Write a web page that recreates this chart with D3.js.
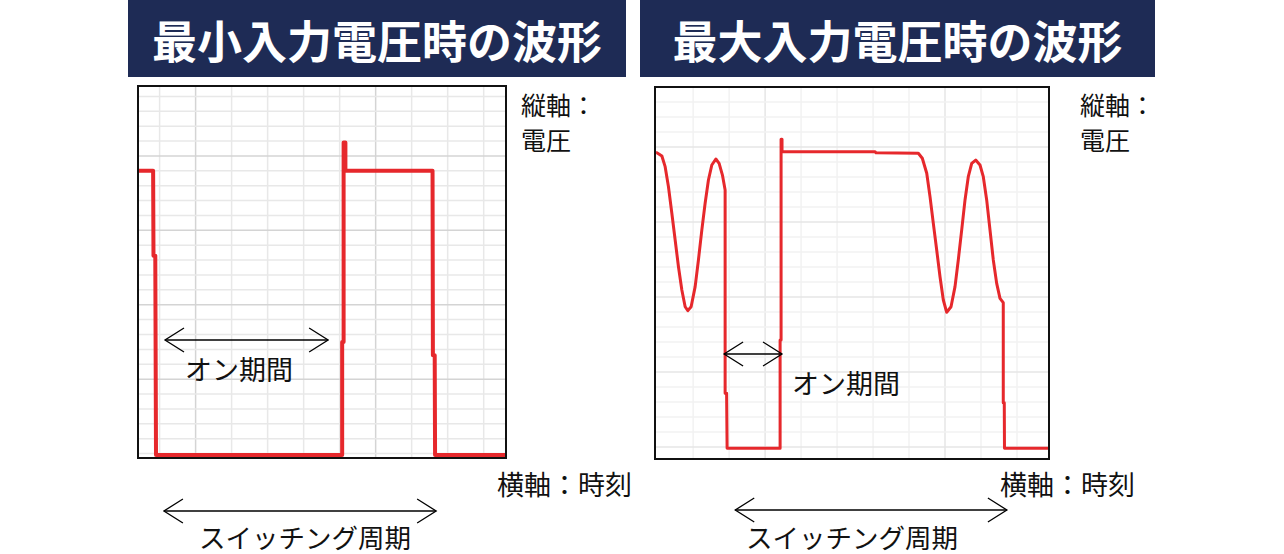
<!DOCTYPE html>
<html>
<head>
<meta charset="utf-8">
<script src="https://cdn.jsdelivr.net/npm/d3@7"></script>
<style>
  body { margin: 0; background: #fff; }
  text { font-family: "Noto Sans CJK JP", "Noto Sans", sans-serif; }
</style>
</head>
<body>
<svg id="chart" width="1284" height="554"></svg>
<script>
// titles
const titles = ["最小入力電圧時の波形", "最大入力電圧時の波形"];

// waveform at minimum input voltage (time in grid divisions, voltage in grid divisions)
const minTime = [-0.6, -0.18, -0.17, -0.12, -0.1, 5.07, 5.07, 5.11, 5.11, 5.16, 5.16, 7.58, 7.59, 7.64, 7.65, 9.62];
const minVolt = [19.0, 19.0, 13.3, 13.3, -0.1, -0.1, 7.5, 7.5, 20.9, 20.9, 19.0, 19.0, 6.6, 6.6, -0.1, -0.1];

// waveform at maximum input voltage
const maxTime = [-1.03, -1.008, -0.869, -0.778, -0.686, -0.592, -0.5, -0.408, -0.314, -0.222, -0.147, -0.056,
  0.056, 0.147, 0.242, 0.333, 0.425, 0.519, 0.631, 0.722, 0.814, 0.889, 0.889, 0.93, 0.944,
  2.417, 2.417, 2.444, 2.444, 2.47, 2.47, 2.508, 5.056, 5.08, 6.258, 6.369, 6.492, 6.583, 6.675,
  6.769, 6.861, 6.953, 7.047, 7.167, 7.278, 7.369, 7.464, 7.556, 7.647, 7.742, 7.853, 7.972,
  8.064, 8.158, 8.25, 8.342, 8.436, 8.528, 8.619, 8.619, 8.647, 8.653, 9.89];
const maxVolt = [19.62, 19.62, 19.4, 18.69, 17.35, 15.58, 13.8, 12.02, 10.47, 9.35, 9.09, 9.35,
  10.69, 12.47, 14.47, 16.25, 17.8, 18.8, 19.2, 18.91, 18.13, 17.13, 3.58, 3.58, -0.09,
  -0.09, 7.13, 7.13, 20.51, 20.51, 19.69, 19.69, 19.69, 19.62, 19.58, 19.25, 18.25, 16.69, 14.91,
  13.13, 11.35, 9.8, 8.98, 9.35, 10.69, 12.47, 14.47, 16.47, 18.02, 18.91, 19.13, 18.8,
  18.02, 16.47, 14.47, 12.47, 10.91, 9.91, 9.62, 2.95, 2.95, -0.09, -0.09];

// grid lines
const minGridX = [0, 1, 2, 3, 4, 5, 6, 7, 8, 9];
const minMajorX = [1, 6];
const minGridY = [0, 1, 2, 3, 4, 5, 6, 7, 8, 9, 10, 11, 12, 13, 14, 15, 16, 17, 18, 19, 20, 21, 22, 23, 24];
const minMajorY = [5, 10, 15, 20];
const maxGridX = [0, 1, 2, 3, 4, 5, 6, 7, 8, 9];
const maxMajorX = [2, 7];
const maxGridY = [0, 1, 2, 3, 4, 5, 6, 7, 8, 9, 10, 11, 12, 13, 14, 15, 16, 17, 18, 19, 20, 21, 22, 23];
const maxMajorY = [0, 5, 10, 15, 20];

// annotations: [start, end] in time units
const minOnPeriod = [0.15, 4.68];
const minSwitchPeriod = [0.12, 7.68];
const maxOnPeriod = [0.86, 2.47];
const maxSwitchPeriod = [1.17, 8.72];

const svg = d3.select("#chart");
const red = "#e6282c";

function arrow(g, x1, x2, y) {
    g.append("line")
        .attr("x1", x1).attr("x2", x2)
        .attr("y1", y).attr("y2", y)
        .attr("stroke", "#000").attr("stroke-width", 1.3);
    g.append("path")
        .attr("d", "M" + (x1 + 19) + "," + (y - 12) + "L" + x1 + "," + y + "L" + (x1 + 19) + "," + (y + 12)
            + "M" + (x2 - 19) + "," + (y - 12) + "L" + x2 + "," + y + "L" + (x2 - 19) + "," + (y + 12))
        .attr("fill", "none").attr("stroke", "#000").attr("stroke-width", 1.3);
}

function label(x, y, txt, anchor, size) {
    svg.append("text")
        .attr("x", x).attr("y", y)
        .attr("dominant-baseline", "central")
        .attr("text-anchor", anchor || "start")
        .attr("font-size", size || 27)
        .attr("fill", "#111")
        .text(txt);
}

function drawPanel(p, id) {
    // title box
    svg.append("rect")
        .attr("x", p.title[0]).attr("y", 0)
        .attr("width", p.title[1] - p.title[0]).attr("height", 77)
        .attr("fill", "#1e2b55");
    svg.append("text")
        .attr("x", (p.title[0] + p.title[1]) / 2).attr("y", 39)
        .attr("text-anchor", "middle")
        .attr("dominant-baseline", "central")
        .attr("font-size", 45).attr("font-weight", "bold")
        .attr("fill", "#fff")
        .text(p.name);

    let x = d3.scaleLinear().domain(p.xDomain).range([p.x, p.x + p.w]);
    let y = d3.scaleLinear().domain(p.yDomain).range([p.y + p.h, p.y]);

    svg.append("clipPath").attr("id", "clip" + id)
        .append("rect").attr("x", p.x).attr("y", p.y).attr("width", p.w).attr("height", p.h);

    let g = svg.append("g").attr("clip-path", "url(#clip" + id + ")");
    g.append("rect").attr("x", p.x).attr("y", p.y).attr("width", p.w).attr("height", p.h).attr("fill", "#fff");

    g.selectAll(".gx").data(p.gridX).enter().append("line")
        .attr("x1", d => x(d)).attr("x2", d => x(d))
        .attr("y1", p.y).attr("y2", p.y + p.h)
        .attr("stroke", d => p.majorX.includes(d) ? p.major : p.minor)
        .attr("stroke-width", 1.5);
    g.selectAll(".gy").data(p.gridY).enter().append("line")
        .attr("y1", d => y(d)).attr("y2", d => y(d))
        .attr("x1", p.x).attr("x2", p.x + p.w)
        .attr("stroke", d => p.majorY.includes(d) ? p.major : p.minor)
        .attr("stroke-width", 1.5);

    let pts = p.time.map((t, i) => [t, p.volt[i]]);
    let line = d3.line().x(d => x(d[0])).y(d => y(d[1]));
    g.append("path")
        .datum(pts)
        .attr("d", line)
        .attr("fill", "none")
        .attr("stroke", red)
        .attr("stroke-width", p.stroke)
        .attr("stroke-linejoin", "round");

    svg.append("rect")
        .attr("x", p.x).attr("y", p.y).attr("width", p.w).attr("height", p.h)
        .attr("fill", "none").attr("stroke", "#111").attr("stroke-width", 2);

    // on period
    arrow(svg, x(p.on[0]), x(p.on[1]), y(p.onY));
    label(p.onLabel[0], p.onLabel[1], "オン期間");

    // switching period below the panel
    arrow(svg, x(p.sw[0]), x(p.sw[1]), p.swY);
    label(p.swLabelX, 536, "スイッチング周期", "middle", 26.5);

    label(p.vLabelX, 104, "縦軸：", "start", 25);
    label(p.vLabelX, 139, "電圧", "start", 25);
    label(p.hLabelX, 483, "横軸：時刻");
}

drawPanel({
    name: titles[0], title: [128, 626],
    x: 138, y: 86, w: 368, h: 372,
    xDomain: [-0.6, 9.62], yDomain: [-0.3, 24.7],
    gridX: minGridX, majorX: minMajorX, gridY: minGridY, majorY: minMajorY,
    minor: "#e8e8e8", major: "#d4d4d4",
    time: minTime, volt: minVolt, stroke: 4,
    on: minOnPeriod, onY: 7.63, onLabel: [185, 368],
    sw: minSwitchPeriod, swY: 511, swLabelX: 305,
    vLabelX: 521, hLabelX: 497
}, 0);

drawPanel({
    name: titles[1], title: [640, 1155],
    x: 655, y: 87, w: 394, h: 372,
    xDomain: [-1.06, 9.89], yDomain: [-0.8, 24],
    gridX: maxGridX, majorX: maxMajorX, gridY: maxGridY, majorY: maxMajorY,
    minor: "#f2f2f2", major: "#e6e6e6",
    time: maxTime, volt: maxVolt, stroke: 3,
    on: maxOnPeriod, onY: 6.2, onLabel: [792, 382],
    sw: maxSwitchPeriod, swY: 510, swLabelX: 852,
    vLabelX: 1080, hLabelX: 1000
}, 1);
</script>
</body>
</html>
